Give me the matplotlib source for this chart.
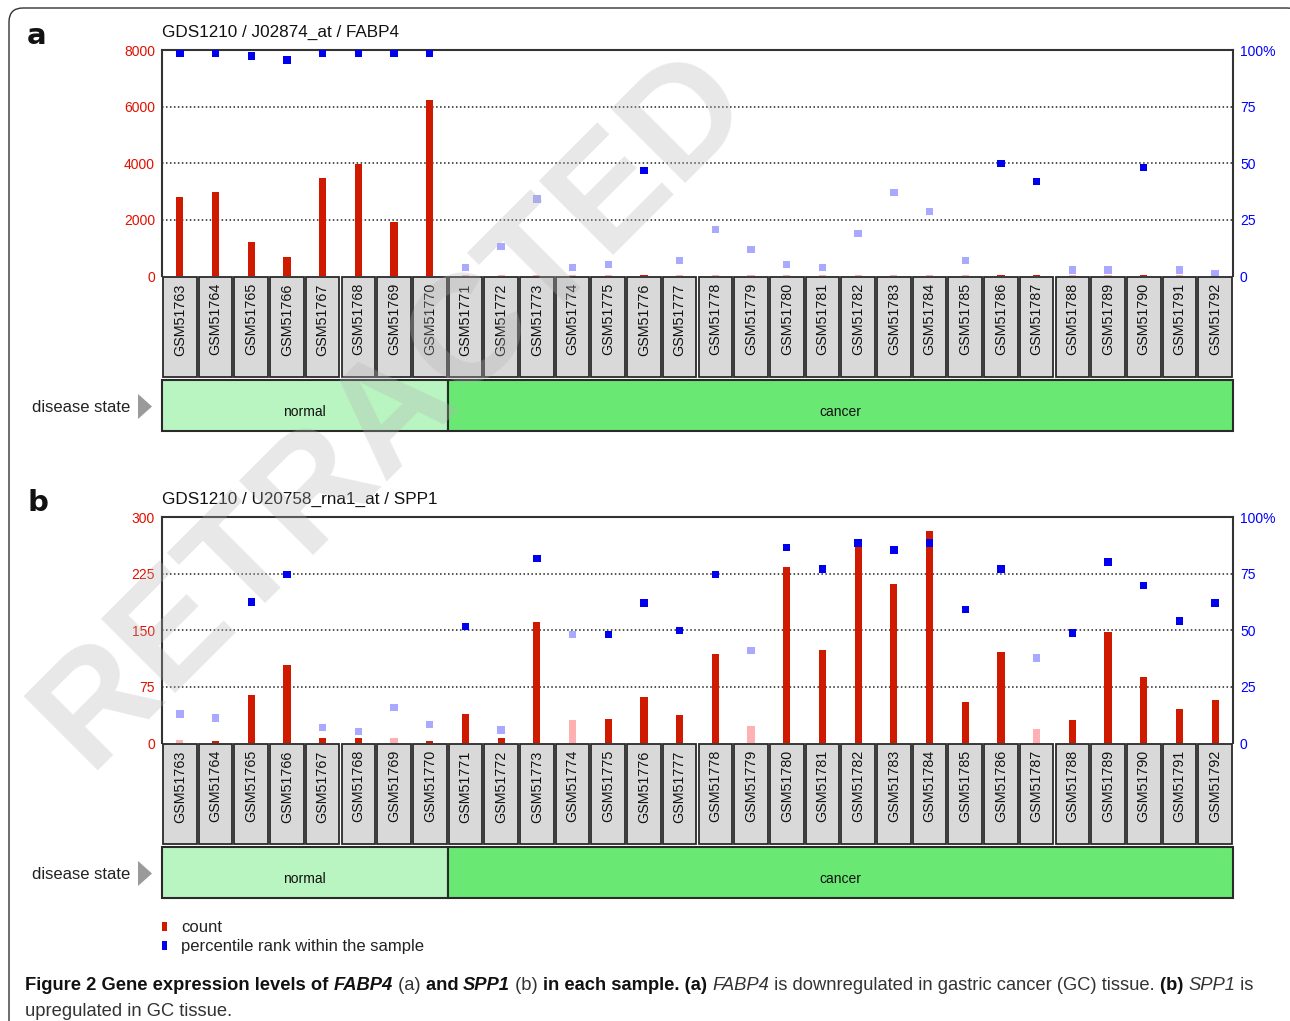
import matplotlib
matplotlib.use('Agg')
import matplotlib.pyplot as plt
import numpy as np
from matplotlib.patches import Rectangle, FancyBboxPatch, Polygon

# ---- data ----
samples = ['GSM51763', 'GSM51764', 'GSM51765', 'GSM51766', 'GSM51767', 'GSM51768',
           'GSM51769', 'GSM51770', 'GSM51771', 'GSM51772', 'GSM51773', 'GSM51774',
           'GSM51775', 'GSM51776', 'GSM51777', 'GSM51778', 'GSM51779', 'GSM51780',
           'GSM51781', 'GSM51782', 'GSM51783', 'GSM51784', 'GSM51785', 'GSM51786',
           'GSM51787', 'GSM51788', 'GSM51789', 'GSM51790', 'GSM51791', 'GSM51792']
disease = ['normal'] * 8 + ['cancer'] * 22

fabp4_count = [2790, 2970, 1190, 670, 3460, 3950, 1920, 6230,
               45, 45, 45, 45, 45, 45, 45, 45, 45, 45, 45,
               45, 45, 45, 45, 45, 45, 45, 45, 45, 45, 45]
fabp4_rank = [98.5, 98.5, 97.3, 95.6, 98.5, 98.5, 98.5, 98.5,
              3.8, 13, 34, 3.8, 5, 46.8, 6.9, 20.6, 11.6, 5, 3.8,
              18.9, 37, 28.5, 7, 49.9, 41.7, 2.7, 2.7, 48, 2.7, 1.2]
fabp4_present = [1, 1, 1, 1, 1, 1, 1, 1,
                 0, 0, 0, 0, 0, 1, 0, 0, 0, 0, 0,
                 0, 0, 0, 0, 1, 1, 0, 0, 1, 0, 0]

spp1_count = [4, 2, 64, 103, 6, 6, 6, 3,
              39, 6, 160, 30, 32, 61, 37, 118, 23, 233, 123,
              265, 211, 282, 54, 121, 18, 31, 148, 88, 45, 57]
spp1_count_present = [0, 1, 1, 1, 1, 1, 0, 1,
                      1, 1, 1, 0, 1, 1, 1, 1, 0, 1, 1,
                      1, 1, 1, 1, 1, 0, 1, 1, 1, 1, 1]
spp1_rank = [12.8, 11, 62.4, 74.5, 6.9, 5.1, 15.8, 8.1,
             51.6, 5.8, 81.7, 47.9, 47.9, 61.9, 49.8, 74.5, 40.8, 86.5, 77,
             88.5, 85.4, 88.5, 59, 77, 37.6, 48.7, 80.1, 69.7, 54, 61.9]
spp1_rank_present = [0, 0, 1, 1, 0, 0, 0, 0,
                     1, 0, 1, 0, 1, 1, 1, 1, 0, 1, 1,
                     1, 1, 1, 1, 1, 0, 1, 1, 1, 1, 1]

fabp4_ticks = [0, 2000, 4000, 6000, 8000]
spp1_ticks = [0, 75, 150, 225, 300]
rank_ticks = [0, 25, 50, 75, 100]
rank_labels = ['0', '25', '50', '75', '100%']

RED, PINK = '#d01a00', '#ffb0b0'
BLUE, LBLUE = '#0000ee', '#a9a9ff'
FONT = 'Liberation Sans'

W, H = 1290, 1021
fig = plt.figure(figsize=(W / 100, H / 100), dpi=100)


def box(x0, y0, x1, y1, **kw):
    return fig.add_axes([x0 / W, 1 - y1 / H, (x1 - x0) / W, (y1 - y0) / H], **kw)


L, R = 162, 1233
n = len(samples)
xs = np.arange(n)

ov = fig.add_axes([0, 0, 1, 1], zorder=5)
ov.set_xlim(0, W)
ov.set_ylim(H, 0)
ov.axis('off')


def panel(top, title, letter, counts, c_on, rank, r_on, ticks):
    bot = top + 226
    ax = box(L, top, R, bot)
    ax.set_xlim(-0.5, n - 0.5)
    ax.set_ylim(0, ticks[-1])
    ax.bar(xs, counts, width=0.2, color=[RED if c else PINK for c in c_on], zorder=2)
    for t in ticks[1:-1]:
        ax.axhline(t, color='#222', lw=1.1, ls=(0, (1, 1.6)), zorder=1)
    ax.set_yticks(ticks)
    ax.set_yticklabels([str(t) for t in ticks], color='#e01000', fontsize=10, family=FONT)
    ax.set_xticks([])
    ax.tick_params(length=0, pad=5)
    for s in ['top', 'left', 'right']:
        ax.spines[s].set_linewidth(1.5)
        ax.spines[s].set_color('#333')
    ax.spines['bottom'].set_visible(False)

    ax2 = ax.twinx()
    ax2.set_ylim(0, 100)
    ax2.set_yticks(rank_ticks)
    ax2.set_yticklabels(rank_labels, color='#0000ff', fontsize=10, family=FONT)
    ax2.tick_params(length=0, pad=5)
    for s in ax2.spines.values():
        s.set_visible(False)
    ax2.scatter(xs, rank, marker='s', s=28, linewidths=0,
                c=[BLUE if r else LBLUE for r in r_on], clip_on=False, zorder=3)

    # sample label boxes
    lab = box(L, bot, R, bot + 102)
    lab.set_xlim(-0.5, n - 0.5)
    lab.set_ylim(0, 1)
    lab.axis('off')
    for i, name in enumerate(samples):
        lab.add_patch(Rectangle((i - 0.47, 0.01), 0.94, 0.98, fc='#d9d9d9',
                                ec='#2a2a2a', lw=1.3))
        lab.text(i, 0.93, name, rotation=90, ha='center', va='top',
                 fontsize=10.3, family=FONT, color='#111')

    # disease state band
    band = box(L, bot + 104, R, bot + 155)
    band.set_xlim(-0.5, n - 0.5)
    band.set_ylim(0, 1)
    band.axis('off')
    start = 0
    for i in range(1, n + 1):
        if i == n or disease[i] != disease[start]:
            fc = '#b9f5c0' if disease[start] == 'normal' else '#6ae874'
            band.add_patch(Rectangle((start - 0.5, 0), i - start, 1, fc=fc,
                                     ec='#2a2a2a', lw=1.5, clip_on=False))
            band.text((start + i - 1) / 2, 0.37, disease[start], ha='center',
                      va='center', fontsize=10, family=FONT, color='#111')
            start = i

    ov.text(130, bot + 131, 'disease state', ha='right', va='center',
            fontsize=12, family=FONT, color='#222')
    ov.add_patch(Polygon([(138, bot + 118), (138, bot + 143), (152, bot + 130.5)],
                         closed=True, fc='#9a9a9a', ec='none'))
    ov.text(L, top - 13, title, ha='left', va='baseline', fontsize=12.3,
            family=FONT, color='#111')
    ov.text(27, top - 6, letter, ha='left', va='baseline', fontsize=21,
            fontweight='bold', family='DejaVu Sans', color='#111')


panel(50, 'GDS1210 / J02874_at / FABP4', 'a', fabp4_count, fabp4_present,
      fabp4_rank, fabp4_present, fabp4_ticks)
panel(517, 'GDS1210 / U20758_rna1_at / SPP1', 'b', spp1_count, spp1_count_present,
      spp1_rank, spp1_rank_present, spp1_ticks)

# legend
ov.add_patch(Rectangle((162, 922), 5, 9, fc=RED, ec='none'))
ov.add_patch(Rectangle((162, 941), 5, 9, fc=BLUE, ec='none'))
ov.text(181, 927, 'count', va='center', fontsize=12, family=FONT, color='#222')
ov.text(181, 946, 'percentile rank within the sample', va='center', fontsize=12,
        family=FONT, color='#222')

# outer rounded frame (open towards the right and bottom edges)
ov.add_patch(FancyBboxPatch((9, 8), 1292, 1100, boxstyle='round,pad=0,rounding_size=14',
                            fc='none', ec='#333', lw=1))

# caption
fs = 13.2
line1 = [('Figure 2 Gene expression levels of ', 'b'), ('FABP4', 'bi'), (' (a) ', ''),
         ('and ', 'b'), ('SPP1', 'bi'), (' (b) ', ''), ('in each sample. (a) ', 'b'),
         ('FABP4', 'i'), (' is downregulated in gastric cancer (GC) tissue. ', ''),
         ('(b) ', 'b'), ('SPP1', 'i'), (' is', '')]
prev = None
for txt, st in line1:
    kw = dict(fontsize=fs, family=FONT, va='bottom', ha='left',
              color='#111' if 'b' in st else '#333',
              fontweight='bold' if 'b' in st else 'normal',
              fontstyle='italic' if 'i' in st else 'normal')
    if prev is None:
        prev = ov.text(25, 994, txt, **kw)
    else:
        prev = ov.annotate(txt, xy=(1, 0), xycoords=prev, **kw)
ov.text(25, 1020, 'upregulated in GC tissue.', fontsize=fs, family=FONT,
        va='bottom', ha='left', color='#333')

# watermark
wm = fig.add_axes([0, 0, 1, 1], zorder=10)
wm.set_xlim(0, W)
wm.set_ylim(H, 0)
wm.axis('off')
wm.text(88, 770, 'RETRACTED', rotation=45, rotation_mode='anchor',
        ha='left', va='baseline', fontsize=110, fontweight='bold', family=FONT,
        color='#b4b4b4', alpha=0.3)

fig.savefig('out.png', dpi=100)
